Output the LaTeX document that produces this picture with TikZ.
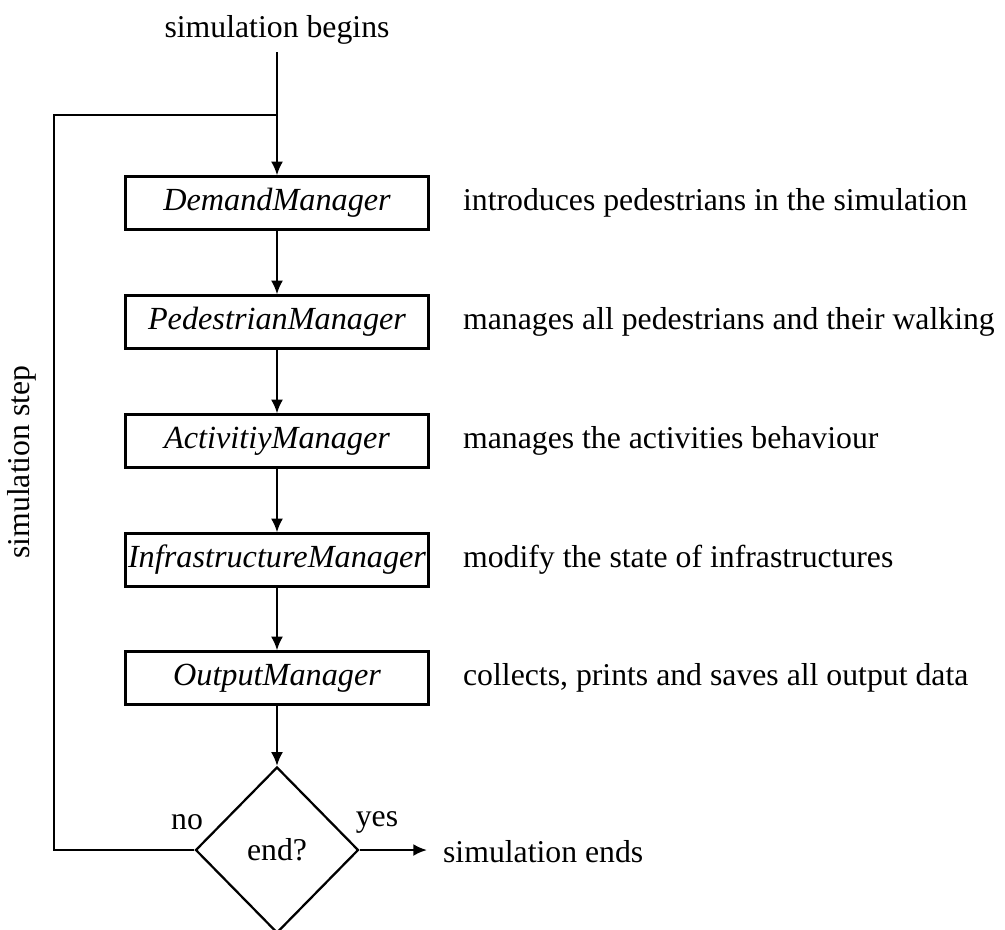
\documentclass[tikz,border=0pt]{standalone}
\usepackage{fontspec}
\setmainfont{Liberation Serif}
\usetikzlibrary{shapes.geometric,arrows.meta}
\begin{document}
\begin{tikzpicture}[x=0.4pt,y=-0.4pt,
  font=\fontsize{12.7pt}{15pt}\selectfont,
  line width=0.9pt,
  flow/.style={-{Latex[length=5.5pt,width=4.8pt]}},
  manager/.style={draw,rectangle,minimum width=121.2pt,minimum height=21.2pt,inner sep=0pt,font=\fontsize{12.9pt}{15pt}\selectfont\itshape},
  decision/.style={draw,diamond,minimum width=65.2pt,minimum height=66.4pt,inner sep=0pt},
  note/.style={anchor=west,inner sep=0pt}]
\useasboundingbox (0,0) rectangle (1005,929);

\node (begin) at (277,30) {simulation begins};
\coordinate (top) at (277,52);
\coordinate (join) at (277,115);
\coordinate (loopTL) at (54,115);
\coordinate (loopBL) at (54,850);

\node[manager] (dm) at (277,203) {DemandManager};
\node[manager] (pm) at (277,322) {PedestrianManager};
\node[manager] (am) at (277,441) {ActivitiyManager};
\node[manager] (im) at (277,560) {InfrastructureManager};
\node[manager] (om) at (277,678) {OutputManager};
\node[decision] (end) at (277,850) {end?};

\node[note] (dmn) at (462,203) {introduces pedestrians in the simulation};
\node[note] (pmn) at (462,322) {manages all pedestrians and their walking};
\node[note] (amn) at (462,441) {manages the activities behaviour};
\node[note] (imn) at (462,560) {modify the state of infrastructures};
\node[note] (omn) at (462,678) {collects, prints and saves all output data};

\node[note] (stop) at (442,852) {simulation ends};
\coordinate (stopin) at (427,850);
\node (no) at (187,822) {no};
\node (yes) at (377,822) {yes};
\node[rotate=90] (step) at (22,462) {simulation step};

\draw (top) -- (join);
\draw[flow] (join) -- (dm.north);
\draw[flow] (dm) -- (pm);
\draw[flow] (pm) -- (am);
\draw[flow] (am) -- (im);
\draw[flow] (im) -- (om);
\draw[flow] (om) -- (end.north);
\draw (end.west) -- (loopBL) -- (loopTL) -- (join);
\draw[flow] (end.east) -- (stopin);
\end{tikzpicture}
\end{document}
